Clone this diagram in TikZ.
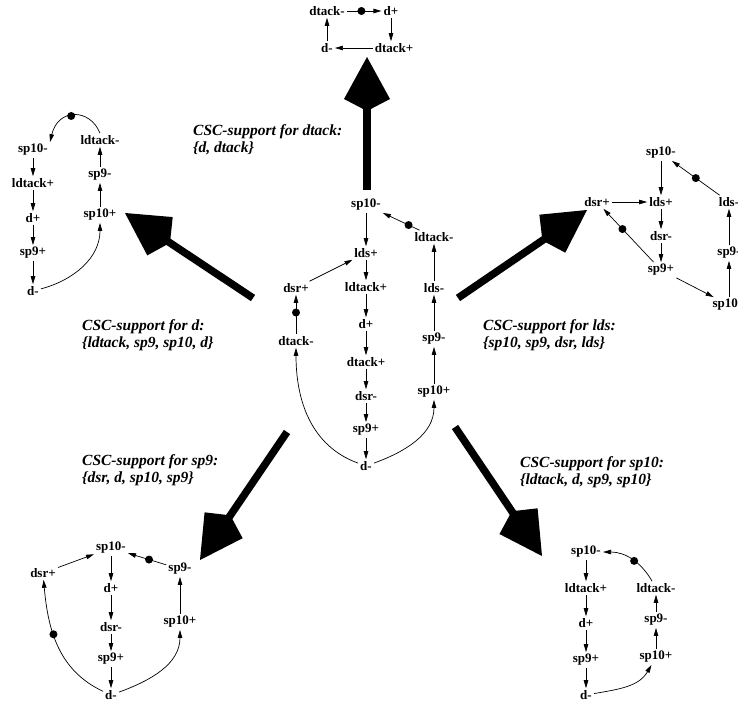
\documentclass[tikz,border=0pt]{standalone}
\usepackage{fontspec}
\setmainfont{Liberation Serif}
\usetikzlibrary{arrows.meta}
\newcommand\evfont{\fontsize{13}{15}\selectfont\bfseries}
\newcommand\lblfont{\fontsize{15.5}{17}\selectfont\bfseries\itshape}

\tikzset{
  ev/.style={font=\evfont, inner sep=2pt},
  arr/.style={line width=0.7pt, -{Triangle[length=8pt,width=4.5pt]}},
  dot/.style={circle, fill=black, inner sep=0pt, minimum size=8pt},
  bigarrow/.style={line width=7.5pt, -{Kite[length=54pt,width=46pt,inset=12pt]}},
  lbl/.style={font=\lblfont, align=left, anchor=base west, inner sep=0pt},
}

\begin{document}
\begin{tikzpicture}[x=1pt,y=1pt]
\useasboundingbox (0,0) rectangle (738,-704);
\clip (0,0) rectangle (738,-704);

% ---------- central STG ----------
\node[ev] (c-sp10m) at (366,-205) {sp10-};
\node[ev] (c-ldsp)  at (366,-253) {lds+};
\node[ev] (c-ldtp)  at (366,-287) {ldtack+};
\node[ev] (c-dp)    at (366,-324) {d+};
\node[ev] (c-dtp)   at (366,-362) {dtack+};
\node[ev] (c-dsrm)  at (366,-396) {dsr-};
\node[ev] (c-sp9p)  at (366,-430) {sp9+};
\node[ev] (c-dm)    at (366,-466) {d-};
\node[ev] (c-ldtm)  at (434,-237) {ldtack-};
\node[ev] (c-ldsm)  at (434,-288) {lds-};
\node[ev] (c-sp9m)  at (434,-339) {sp9-};
\node[ev] (c-sp10p) at (434,-392) {sp10+};
\node[ev] (c-dsrp)  at (296,-288) {dsr+};
\node[ev] (c-dtm)   at (296,-341) {dtack-};

\draw[arr] (c-sp10m) -- (c-ldsp);
\draw[arr] (c-ldsp) -- (c-ldtp);
\draw[arr] (c-ldtp) -- (c-dp);
\draw[arr] (c-dp) -- (c-dtp);
\draw[arr] (c-dtp) -- (c-dsrm);
\draw[arr] (c-dsrm) -- (c-sp9p);
\draw[arr] (c-sp9p) -- (c-dm);
\draw[arr] (c-dm) to[out=160,in=-90] (c-dtm);
\draw[arr] (c-dm) to[out=20,in=-90] (c-sp10p);
\draw[arr] (c-sp10p) -- (c-sp9m);
\draw[arr] (c-sp9m) -- (c-ldsm);
\draw[arr] (c-ldsm) -- (c-ldtm);
\draw[arr] (c-ldtm) -- node[dot,pos=0.3]{} (c-sp10m);
\draw[arr] (c-dtm) -- node[dot,pos=0.55]{} (c-dsrp);
\draw[arr] (c-dsrp) -- (c-ldsp);

% ---------- support for dtack ----------
\node[ev] (t-dtm) at (327,-11) {dtack-};
\node[ev] (t-dp)  at (391,-11) {d+};
\node[ev] (t-dtp) at (394,-48) {dtack+};
\node[ev] (t-dm)  at (327,-48) {d-};
\draw[arr] (t-dtm) -- node[dot,pos=0.42]{} (t-dp);
\draw[arr] (t-dp.south) -- (t-dp.south |- t-dtp.north);
\draw[arr] (t-dtp) -- (t-dm);
\draw[arr] (t-dm) -- (t-dtm);

% ---------- support for d ----------
\node[ev] (l-sp10m) at (33,-150) {sp10-};
\node[ev] (l-ldtp)  at (33,-183) {ldtack+};
\node[ev] (l-dp)    at (33,-218) {d+};
\node[ev] (l-sp9p)  at (33,-253) {sp9+};
\node[ev] (l-dm)    at (33,-291) {d-};
\node[ev] (l-ldtm)  at (100,-140) {ldtack-};
\node[ev] (l-sp9m)  at (100,-175) {sp9-};
\node[ev] (l-sp10p) at (100,-215) {sp10+};
\draw[arr] (l-sp10m) -- (l-ldtp);
\draw[arr] (l-ldtp) -- (l-dp);
\draw[arr] (l-dp) -- (l-sp9p);
\draw[arr] (l-sp9p) -- (l-dm);
\draw[arr] (l-dm) to[out=15,in=-90] (l-sp10p);
\draw[arr] (l-sp10p) -- (l-sp9m);
\draw[arr] (l-sp9m) -- (l-ldtm);
\draw[arr] (l-ldtm.north) .. controls (90,-108) and (58,-108) .. node[dot,pos=0.55]{} (l-sp10m.north east);

% ---------- support for lds ----------
\node[ev] (r-sp10m) at (661,-153) {sp10-};
\node[ev] (r-ldsp)  at (661,-202) {lds+};
\node[ev] (r-dsrm)  at (661,-236) {dsr-};
\node[ev] (r-sp9p)  at (661,-270) {sp9+};
\node[ev] (r-dsrp)  at (597,-202) {dsr+};
\node[ev] (r-ldsm)  at (729,-202) {lds-};
\node[ev] (r-sp9m)  at (729,-253) {sp9-};
\node[ev] (r-sp10p) at (729,-305) {sp10+};
\draw[arr] (r-sp10m) -- (r-ldsp);
\draw[arr] (r-dsrp) -- (r-ldsp);
\draw[arr] (r-ldsp) -- (r-dsrm);
\draw[arr] (r-dsrm) -- (r-sp9p);
\draw[arr] (r-sp9p) -- node[dot,pos=0.62]{} (r-dsrp);
\draw[arr] (r-sp9p) -- (r-sp10p);
\draw[arr] (r-sp10p) -- (r-sp9m);
\draw[arr] (r-sp9m) -- (r-ldsm);
\draw[arr] (r-ldsm) -- node[dot,pos=0.5]{} (r-sp10m);

% ---------- support for sp9 ----------
\node[ev] (bl-sp10m) at (111,-548) {sp10-};
\node[ev] (bl-dp)    at (111,-588) {d+};
\node[ev] (bl-dsrm)  at (111,-627) {dsr-};
\node[ev] (bl-sp9p)  at (111,-659) {sp9+};
\node[ev] (bl-dm)    at (111,-695) {d-};
\node[ev] (bl-dsrp)  at (43,-573) {dsr+};
\node[ev] (bl-sp9m)  at (180,-569) {sp9-};
\node[ev] (bl-sp10p) at (180,-622) {sp10+};
\draw[arr] (bl-dsrp) -- (bl-sp10m);
\draw[arr] (bl-sp10m) -- (bl-dp);
\draw[arr] (bl-dp) -- (bl-dsrm);
\draw[arr] (bl-dsrm) -- (bl-sp9p);
\draw[arr] (bl-sp9p) -- (bl-dm);
\draw[arr] (bl-dm) to[out=155,in=-85] node[dot,pos=0.6]{} (bl-dsrp);
\draw[arr] (bl-dm) to[out=20,in=-90] (bl-sp10p);
\draw[arr] (bl-sp10p) -- (bl-sp9m);
\draw[arr] (bl-sp9m) -- node[dot,pos=0.45]{} (bl-sp10m);

% ---------- support for sp10 ----------
\node[ev] (br-sp10m) at (586,-552) {sp10-};
\node[ev] (br-ldtp)  at (586,-588) {ldtack+};
\node[ev] (br-dp)    at (586,-623) {d+};
\node[ev] (br-sp9p)  at (586,-660) {sp9+};
\node[ev] (br-dm)    at (586,-695) {d-};
\node[ev] (br-ldtm)  at (656,-588) {ldtack-};
\node[ev] (br-sp9m)  at (656,-620) {sp9-};
\node[ev] (br-sp10p) at (656,-657) {sp10+};
\draw[arr] (br-sp10m) -- (br-ldtp);
\draw[arr] (br-ldtp) -- (br-dp);
\draw[arr] (br-dp) -- (br-sp9p);
\draw[arr] (br-sp9p) -- (br-dm);
\draw[arr] (br-dm) to[out=10,in=-120] (br-sp10p);
\draw[arr] (br-sp10p) -- (br-sp9m);
\draw[arr] (br-sp9m) -- (br-ldtm);
\draw[arr] (br-ldtm) to[out=120,in=0] node[dot,pos=0.45]{} (br-sp10m);

% ---------- projection arrows ----------
\coordinate (top-s) at (367,-190);  \coordinate (top-e) at (367,-57);
\coordinate (ul-s)  at (253,-298);  \coordinate (ul-e)  at (125,-213);
\coordinate (ur-s)  at (458,-298);  \coordinate (ur-e)  at (587,-210);
\coordinate (ll-s)  at (287,-432);  \coordinate (ll-e)  at (200,-560);
\coordinate (lr-s)  at (455,-427);  \coordinate (lr-e)  at (542,-556);
\draw[bigarrow] (top-s) -- (top-e);
\draw[bigarrow] (ul-s) -- (ul-e);
\draw[bigarrow] (ur-s) -- (ur-e);
\draw[bigarrow] (ll-s) -- (ll-e);
\draw[bigarrow] (lr-s) -- (lr-e);

% ---------- captions (anchor = baseline of the last line) ----------
\node[lbl] (lab-dtack) at (193,-152) {CSC-support for dtack:\\\{d, dtack\}};
\node[lbl] (lab-d)     at (82,-347)  {CSC-support for d:\\\{ldtack, sp9, sp10, d\}};
\node[lbl] (lab-lds)   at (483,-347) {CSC-support for lds:\\\{sp10, sp9, dsr, lds\}};
\node[lbl] (lab-sp9)   at (82,-482)  {CSC-support for sp9:\\\{dsr, d, sp10, sp9\}};
\node[lbl] (lab-sp10)  at (520,-484) {CSC-support for sp10:\\\{ldtack, d, sp9, sp10\}};
\end{tikzpicture}
\end{document}
